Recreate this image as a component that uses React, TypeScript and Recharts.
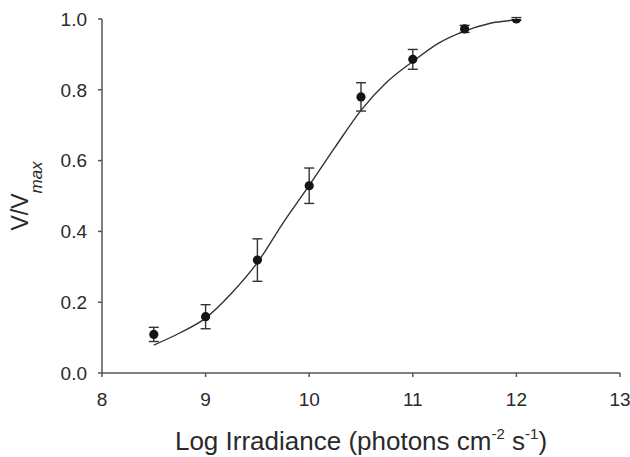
import React from 'react';
import {
  ComposedChart,
  Line,
  Scatter,
  ErrorBar,
  XAxis,
  YAxis,
  Label,
} from 'recharts';

// measured points (mean ± SE)
const logIrradiance = [8.5, 9, 9.5, 10, 10.5, 11, 11.5, 12];
const response = [0.109, 0.159, 0.319, 0.529, 0.78, 0.886, 0.972, 1.0];
const responseErr = [0.02, 0.034, 0.06, 0.05, 0.04, 0.028, 0.01, 0.004];

// fitted curve
const fitX = [8.5, 8.75, 9, 9.25, 9.5, 9.75, 10, 10.25, 10.5, 10.75, 11, 11.25, 11.5, 11.75, 12, 12.06];
const fitY = [0.079, 0.113, 0.155, 0.225, 0.312, 0.425, 0.53, 0.638, 0.742, 0.822, 0.88, 0.932, 0.966, 0.988, 1.0, 1.006];

const xTicks = [8, 9, 10, 11, 12, 13];
const yTicks = [0, 0.2, 0.4, 0.6, 0.8, 1.0];

const FONT = '"Liberation Sans", Arial, sans-serif';
const AXIS_COLOR = '#555';
const TEXT_COLOR = '#2a2a2a';

const points = logIrradiance.map((x, i) => ({ x, y: response[i], err: responseErr[i] }));
const fit = fitX.map((x, i) => ({ x, y: fitY[i] }));

const Dot = (props: any) => {
  const { cx, cy } = props;
  return <circle cx={cx} cy={cy} r={4.6} fill="#151515" />;
};

const YTitle = (props: any) => {
  const { viewBox } = props;
  const cy = viewBox.y + viewBox.height / 2;
  const x = 28;
  return (
    <text
      x={x}
      y={cy}
      transform={`rotate(-90, ${x}, ${cy})`}
      textAnchor="middle"
      fontFamily={FONT}
      fontSize={23}
      fill={TEXT_COLOR}
    >
      V/V
      <tspan fontSize={17} fontStyle="italic" dy={14}>max</tspan>
    </text>
  );
};

const XTitle = (props: any) => {
  const { viewBox } = props;
  const cx = viewBox.x + viewBox.width / 2;
  return (
    <text x={cx} y={450} textAnchor="middle" fontFamily={FONT} fontSize={26} fill={TEXT_COLOR}>
      Log Irradiance (photons cm
      <tspan fontSize={15} dy={-11}>-2</tspan>
      <tspan dy={11}> s</tspan>
      <tspan fontSize={15} dy={-11}>-1</tspan>
      <tspan dy={11}>)</tspan>
    </text>
  );
};

export default function App() {
  return (
    <div style={{ position: 'absolute', left: 0, top: 0, width: 630, height: 457, background: '#fff' }}>
      <ComposedChart width={630} height={457} margin={{ top: 19, right: 10, bottom: 0, left: 0 }}>
        <XAxis
          type="number"
          dataKey="x"
          domain={[8, 13]}
          ticks={xTicks}
          allowDataOverflow
          height={84}
          tickSize={4}
          tickMargin={16}
          stroke={AXIS_COLOR}
          strokeWidth={1.5}
          tick={{ fill: TEXT_COLOR, fontSize: 19, fontFamily: FONT }}
        >
          <Label content={<XTitle />} />
        </XAxis>
        <YAxis
          type="number"
          dataKey="y"
          domain={[0, 1]}
          ticks={yTicks}
          allowDataOverflow
          width={102}
          tickSize={4}
          tickMargin={11}
          stroke={AXIS_COLOR}
          strokeWidth={1.5}
          tickFormatter={(v: number) => v.toFixed(1)}
          tick={{ fill: TEXT_COLOR, fontSize: 19, fontFamily: FONT }}
        >
          <Label content={<YTitle />} />
        </YAxis>
        <Line
          data={fit}
          dataKey="y"
          type="monotone"
          stroke="#333"
          strokeWidth={1.4}
          dot={false}
          activeDot={false}
          isAnimationActive={false}
        />
        <Scatter data={points} dataKey="y" shape={<Dot />} isAnimationActive={false}>
          <ErrorBar dataKey="err" direction="y" width={5} stroke="#333" strokeWidth={1.4} />
        </Scatter>
      </ComposedChart>
    </div>
  );
}
